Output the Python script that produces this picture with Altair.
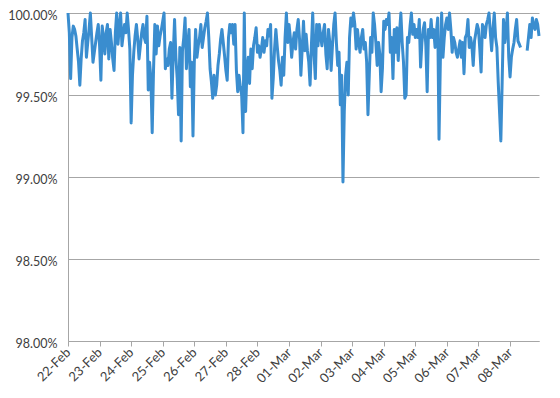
import altair as alt
import pandas as pd

# Hourly availability (%), 22-Feb 00:00 .. 08-Mar 22:00
feb22 = [100.00, 99.88, 99.60, 99.85, 99.92, 99.90, 99.86, 99.78, 99.70, 99.56, 99.72, 99.83,
         99.88, 99.96, 99.73, 99.82, 99.90, 100.00, 99.85, 99.70, 99.76, 99.82, 99.88, 99.93]
feb23 = [99.80, 99.59, 99.92, 99.85, 99.75, 99.88, 99.93, 99.72, 99.90, 99.82, 99.72, 99.65,
         99.88, 100.00, 99.81, 99.92, 100.00, 99.80, 99.87, 99.93, 99.88, 100.00, 99.90, 99.78]
feb24 = [99.33, 99.62, 99.76, 99.86, 99.93, 99.84, 99.72, 99.80, 99.88, 99.93, 99.85, 99.82,
         99.98, 99.53, 99.70, 99.60, 99.27, 99.65, 99.93, 99.75, 99.92, 99.80, 99.86, 99.90]
feb25 = [99.95, 100.00, 99.66, 99.72, 99.68, 99.78, 99.82, 99.48, 99.75, 99.96, 99.73, 99.60,
         99.38, 99.79, 99.22, 99.77, 99.85, 99.97, 99.66, 99.80, 99.90, 99.55, 99.70, 99.25]
feb26 = [99.70, 99.90, 99.73, 99.80, 99.85, 99.93, 99.79, 99.85, 99.91, 99.95, 100.00, 99.85,
         99.66, 99.58, 99.48, 99.62, 99.50, 99.56, 99.68, 99.75, 99.84, 99.90, 99.82, 99.74]
feb27 = [99.65, 99.59, 99.85, 99.93, 99.88, 99.93, 99.81, 99.93, 99.65, 99.52, 99.62, 99.55,
         99.50, 99.27, 100.00, 99.40, 99.65, 99.73, 99.57, 99.78, 99.66, 99.80, 99.85, 99.91]
feb28 = [99.76, 99.80, 99.73, 99.78, 99.85, 99.76, 99.83, 99.80, 99.90, 99.86, 99.93, 99.48,
         99.60, 99.78, 99.90, 99.80, 99.71, 99.65, 99.56, 99.73, 99.62, 99.85, 100.00, 99.82]
mar01 = [99.93, 99.85, 99.73, 99.82, 99.88, 99.78, 99.90, 99.96, 99.84, 99.62, 99.78, 99.95,
         99.77, 99.87, 99.77, 99.70, 99.56, 99.80, 100.00, 99.75, 99.60, 99.93, 99.80, 99.93]
mar02 = [99.86, 99.80, 99.88, 99.93, 99.75, 99.66, 99.90, 99.82, 99.65, 99.80, 99.93, 100.00,
         99.82, 99.68, 99.76, 99.44, 99.62, 98.97, 99.40, 99.62, 99.70, 99.50, 99.85, 99.97]
mar03 = [99.92, 100.00, 99.93, 99.78, 99.90, 99.82, 99.76, 99.85, 99.90, 99.78, 99.82, 99.70,
         99.38, 99.62, 99.85, 99.76, 100.00, 99.93, 99.82, 99.68, 99.82, 99.75, 99.52, 99.66]
mar04 = [99.95, 99.90, 99.96, 99.93, 100.00, 99.76, 99.85, 99.60, 99.90, 99.76, 99.91, 99.71,
         99.88, 100.00, 99.82, 99.70, 99.48, 99.50, 99.85, 99.82, 99.92, 100.00, 99.87, 99.93]
mar05 = [99.85, 99.90, 99.85, 99.96, 99.67, 99.82, 99.90, 99.94, 99.80, 99.52, 99.90, 99.85,
         99.96, 99.85, 99.90, 99.79, 99.88, 99.97, 99.23, 99.70, 100.00, 99.73, 99.85, 99.93]
mar06 = [99.97, 99.90, 100.00, 99.90, 99.76, 99.85, 99.82, 99.76, 99.73, 99.78, 99.83, 99.73,
         99.82, 99.63, 99.85, 99.87, 99.96, 99.79, 99.85, 99.80, 99.68, 99.83, 99.88, 99.93]
mar07 = [99.90, 99.78, 99.64, 99.93, 99.91, 99.85, 99.93, 99.96, 100.00, 99.88, 99.77, 99.90,
         100.00, 99.85, 99.79, 99.58, 99.40, 99.22, 99.58, 99.96, 99.82, 99.90, 100.00, 99.73]
mar08 = [99.61, 99.73, 99.78, 99.82, 99.90, 99.96, 99.83, 99.81, 99.79, None, None, None,
         None, 99.77, 99.85, 99.93, 99.85, 99.97, 99.92, 99.90, 99.96, 99.93, 99.86]

y_ticks = [0.98, 0.985, 0.99, 0.995, 1.0]

pct = (feb22 + feb23 + feb24 + feb25 + feb26 + feb27 + feb28 + mar01 + mar02 + mar03
       + mar04 + mar05 + mar06 + mar07 + mar08)
times = pd.date_range("2015-02-22 00:00", periods=len(pct), freq="h")
df = pd.DataFrame({"time": times.strftime("%Y-%m-%dT%H:%M:%S"), "pct": pct})
df["segment"] = df["pct"].isna().cumsum()
df = df.dropna()
df["uptime"] = df["pct"] / 100.0

FONT = "Lato"
GRID = "#A6A6A6"
TEXT = "#404040"

chart = (
    alt.Chart(df)
    .mark_line(color="#3A8DCF", strokeWidth=3, strokeJoin="round")
    .encode(
        x=alt.X(
            "time:T",
            title=None,
            scale=alt.Scale(nice=False),
            axis=alt.Axis(
                format="%d-%b",
                tickCount={"interval": "day", "step": 1},
                labelAngle=-45,
                labelAlign="right",
                labelBaseline="middle",
                labelOverlap=False,
                labelFlush=False,
                labelBound=False,
                labelPadding=4,
                grid=False,
                domainColor=GRID,
                tickColor=GRID,
                tickSize=5,
                labelFont=FONT,
                labelFontSize=13,
                labelColor=TEXT,
            ),
        ),
        y=alt.Y(
            "uptime:Q",
            title=None,
            scale=alt.Scale(domain=[0.98, 1.0], nice=False),
            axis=alt.Axis(
                format=".2%",
                values=y_ticks,
                ticks=False,
                labelPadding=11,
                labelOffset=2,
                gridColor=GRID,
                domainColor=GRID,
                labelFont=FONT,
                labelFontSize=12.5,
                labelColor=TEXT,
            ),
        ),
        detail="segment:N",
    )
    .properties(
        width=471,
        height=328,
        autosize=alt.AutoSizeParams(type="none"),
        padding={"left": 60, "top": 5, "right": 13, "bottom": 49},
        background="white",
    )
    .configure_view(stroke="transparent")
)

chart.save("out.html", embed_options={"renderer": "svg", "actions": False})
